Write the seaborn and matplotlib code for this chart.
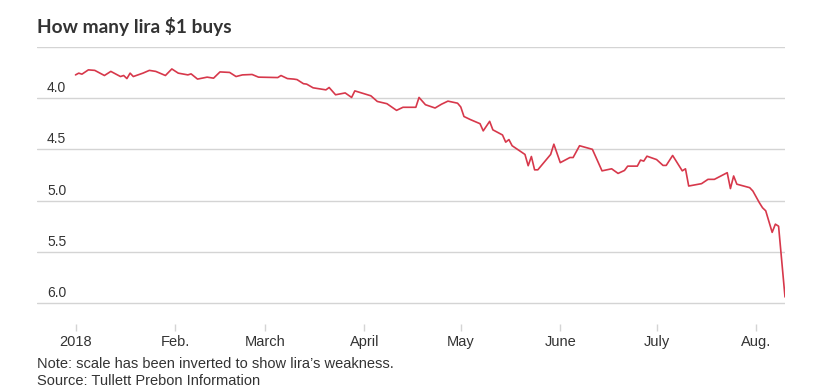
import matplotlib
matplotlib.use('Agg')
import matplotlib.pyplot as plt
import seaborn as sns
import pandas as pd

# data (USD/TRY, 2018)
dates = [
    '2018-01-01', '2018-01-02', '2018-01-03', '2018-01-05', '2018-01-07', '2018-01-10',
    '2018-01-12', '2018-01-15', '2018-01-16', '2018-01-17', '2018-01-18', '2018-01-19',
    '2018-01-22', '2018-01-24', '2018-01-26', '2018-01-29', '2018-01-31', '2018-02-02',
    '2018-02-05', '2018-02-06', '2018-02-08', '2018-02-11', '2018-02-13', '2018-02-15',
    '2018-02-18', '2018-02-20', '2018-02-22', '2018-02-25', '2018-02-27', '2018-03-05',
    '2018-03-06', '2018-03-08', '2018-03-10', '2018-03-11', '2018-03-13', '2018-03-14',
    '2018-03-16', '2018-03-20', '2018-03-21', '2018-03-23', '2018-03-26', '2018-03-28',
    '2018-03-29', '2018-04-03', '2018-04-05', '2018-04-08', '2018-04-11', '2018-04-13',
    '2018-04-17', '2018-04-18', '2018-04-20', '2018-04-23', '2018-04-25', '2018-04-27',
    '2018-04-30', '2018-05-01', '2018-05-02', '2018-05-04', '2018-05-07', '2018-05-08',
    '2018-05-10', '2018-05-11', '2018-05-14', '2018-05-15', '2018-05-16', '2018-05-17',
    '2018-05-21', '2018-05-22', '2018-05-23', '2018-05-24', '2018-05-25', '2018-05-29',
    '2018-05-30', '2018-06-01', '2018-06-04', '2018-06-05', '2018-06-07', '2018-06-11',
    '2018-06-14', '2018-06-17', '2018-06-19', '2018-06-21', '2018-06-22', '2018-06-25',
    '2018-06-26', '2018-06-27', '2018-06-28', '2018-07-01', '2018-07-03', '2018-07-04',
    '2018-07-06', '2018-07-09', '2018-07-10', '2018-07-11', '2018-07-15', '2018-07-17',
    '2018-07-19', '2018-07-23', '2018-07-24', '2018-07-25', '2018-07-26', '2018-07-30',
    '2018-07-31', '2018-08-02', '2018-08-03', '2018-08-04', '2018-08-06', '2018-08-07',
    '2018-08-08', '2018-08-10',
]
rates = [
    3.774, 3.757, 3.767, 3.725, 3.730, 3.780,
    3.740, 3.790, 3.780, 3.810, 3.757, 3.790,
    3.757, 3.730, 3.740, 3.780, 3.716, 3.757,
    3.774, 3.764, 3.815, 3.796, 3.806, 3.745,
    3.750, 3.790, 3.774, 3.770, 3.796, 3.800,
    3.780, 3.810, 3.815, 3.820, 3.860, 3.864,
    3.900, 3.920, 3.897, 3.968, 3.950, 3.994,
    3.930, 3.978, 4.033, 4.055, 4.120, 4.090,
    4.090, 3.994, 4.065, 4.097, 4.060, 4.030,
    4.050, 4.087, 4.180, 4.210, 4.250, 4.320,
    4.227, 4.310, 4.360, 4.430, 4.405, 4.465,
    4.550, 4.660, 4.570, 4.700, 4.700, 4.550,
    4.450, 4.630, 4.580, 4.580, 4.465, 4.500,
    4.710, 4.690, 4.735, 4.706, 4.664, 4.664,
    4.605, 4.615, 4.567, 4.600, 4.657, 4.657,
    4.560, 4.710, 4.690, 4.858, 4.835, 4.793,
    4.793, 4.728, 4.883, 4.760, 4.840, 4.874,
    4.907, 5.020, 5.070, 5.100, 5.310, 5.230,
    5.250, 5.940,
]

y_ticks = [4.0, 4.5, 5.0, 5.5, 6.0]
y_labels = ['4.0', '4.5', '5.0', '5.5', '6.0']
x_ticks = ['2018-01-01', '2018-02-01', '2018-03-01', '2018-04-01',
           '2018-05-01', '2018-06-01', '2018-07-01', '2018-08-01']
x_labels = ['2018', 'Feb.', 'March', 'April', 'May', 'June', 'July', 'Aug.']

df = pd.DataFrame({'date': pd.to_datetime(dates), 'rate': rates})

sns.set_theme(style='white')
plt.rcParams['font.family'] = ['Liberation Sans', 'DejaVu Sans']
text_color = '#333333'
grid_color = '#d4d4d4'

fig = plt.figure(figsize=(8.28, 3.89), dpi=100)
ax = fig.add_axes([37 / 828, 65.4 / 389, 748 / 828, 276.8 / 389])

sns.lineplot(data=df, x='date', y='rate', ax=ax, color='#d7384b', linewidth=1.2, zorder=3)

ax.set_xlim(pd.Timestamp('2017-12-20'), pd.Timestamp('2018-08-10'))
ax.set_ylim(6.2, 3.5)

# horizontal rules
for v in [3.5] + y_ticks:
    ax.axhline(v, color=grid_color, linewidth=1.0, zorder=1)
for v, lbl in zip(y_ticks, y_labels):
    ax.annotate(lbl, xy=(0, v), xycoords=('axes fraction', 'data'),
                xytext=(10, 3), textcoords='offset pixels',
                ha='left', va='bottom', fontsize=10, color=text_color)

ax.set_yticks([])
ax.set_xticks(pd.to_datetime(x_ticks))
ax.set_xticklabels(x_labels, fontsize=10.5, color=text_color)
ax.tick_params(axis='x', bottom=True, direction='out', length=5, width=1,
               color=grid_color, pad=3)
for s in ax.spines.values():
    s.set_visible(False)
ax.set_xlabel('')
ax.set_ylabel('')

fig.text(37 / 828, 1 - 26 / 389, 'How many lira $1 buys', fontsize=13.8, fontweight='bold',
         color=text_color, ha='left', va='center', family=['Lato', 'DejaVu Sans'])
fig.text(37 / 828, 1 - 364 / 389, 'Note: scale has been inverted to show lira\u2019s weakness.',
         fontsize=10.5, color=text_color, ha='left', va='center')
fig.text(37 / 828, 1 - 381 / 389, 'Source: Tullett Prebon Information',
         fontsize=10.5, color=text_color, ha='left', va='center')

fig.savefig('out.png', dpi=100, facecolor='white')
